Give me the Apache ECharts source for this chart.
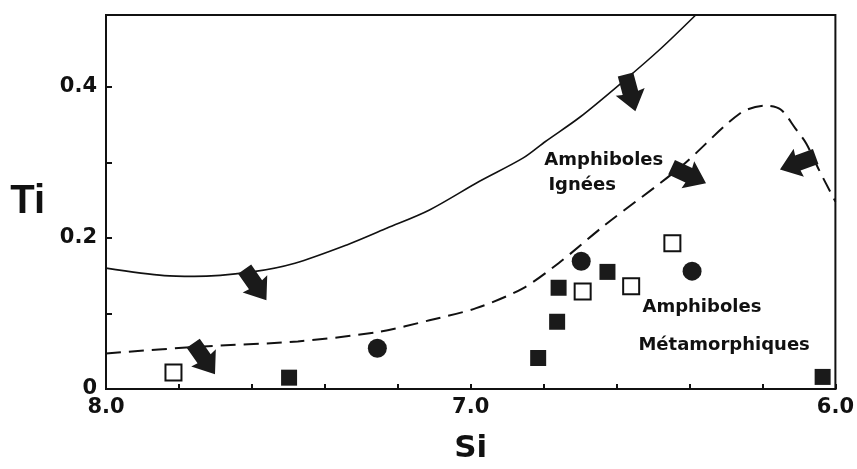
<!DOCTYPE html>
<html>
<head>
<meta charset="utf-8">
<script src="https://cdn.jsdelivr.net/npm/echarts@6/dist/echarts.min.js"></script>
<style>
html,body{margin:0;padding:0;background:#fff;}
#chart{width:857px;height:469px;}
</style>
</head>
<body>
<div id="chart"></div>
<script>
// Data (Si, Ti)
const openSquares = [[7.815,0.022],[6.693,0.129],[6.560,0.136],[6.447,0.193]];
const filledSquares = [[7.498,0.015],[6.815,0.041],[6.763,0.089],[6.759,0.134],[6.625,0.155],[6.035,0.016]];
const filledCircles = [[7.256,0.054],[6.697,0.169],[6.393,0.156]];
const igneousLimit = [[8.0,0.160],[7.84,0.150],[7.758,0.149],[7.60,0.155],[7.482,0.1665],[7.338,0.191],[7.229,0.213],[7.113,0.237],[6.977,0.2746],[6.857,0.3055],[6.795,0.3276],[6.70,0.360],[6.587,0.405],[6.48,0.450],[6.383,0.495]];
const metamorphicLimit = [[8.0,0.047],[7.745,0.056],[7.474,0.063],[7.248,0.076],[7.113,0.091],[6.985,0.107],[6.858,0.133],[6.759,0.1665],[6.632,0.217],[6.424,0.294],[6.261,0.365],[6.19,0.375],[6.15,0.370],[6.11,0.345],[6.08,0.325],[6.045,0.29],[6.0,0.248]];
// arrows: Si, Ti, rotation (deg)
const arrows = [[7.590,0.138,35],[7.731,0.040,35],[6.562,0.392,15],[6.402,0.283,65],[6.103,0.299,-70]];
const annotations = [
  {name:'Amphiboles', value:[6.798,0.303]},
  {name:'Ignées', value:[6.787,0.270]},
  {name:'Amphiboles', value:[6.529,0.1086]},
  {name:'Métamorphiques', value:[6.540,0.058]}
];
const xTickLabels = [8, 7, 6];
const yTickLabels = [0, 0.2, 0.4];

const ink = '#111';
const arrowPath = 'path://M-8,-19 L8,-19 L8,0 L15,-1 L0,19 L-15,-1 L-8,0 Z';

const chart = echarts.init(document.getElementById('chart'));
chart.setOption({
  backgroundColor: '#fff',
  animation: false,
  grid: {left:106, right:14, top:15, bottom:80, show:true, borderColor:ink, borderWidth:2, backgroundColor:'transparent'},
  xAxis: {
    type:'value', inverse:true, min:6, max:8, interval:0.2,
    axisLine:{lineStyle:{color:ink, width:2}},
    axisTick:{inside:true, length:5, lineStyle:{color:ink, width:2}},
    splitLine:{show:false},
    axisLabel:{
      color:ink, fontSize:21, fontFamily:'DejaVu Sans', fontWeight:'bold', margin:8,
      formatter: v => xTickLabels.some(t => Math.abs(t - v) < 1e-6) ? v.toFixed(1) : ''
    },
    name:'Si', nameLocation:'middle', nameGap:44,
    nameTextStyle:{color:ink, fontSize:31, fontFamily:'DejaVu Sans', fontWeight:'bold'}
  },
  yAxis: {
    type:'value', min:0, max:0.495, interval:0.1,
    axisLine:{lineStyle:{color:ink, width:2}},
    axisTick:{inside:true, length:6, lineStyle:{color:ink, width:2}},
    splitLine:{show:false},
    axisLabel:{
      color:ink, fontSize:21, fontFamily:'DejaVu Sans', fontWeight:'bold', margin:9,
      formatter: v => {
        const t = yTickLabels.find(t => Math.abs(t - v) < 1e-6);
        if (t === undefined) return '';
        return t === 0 ? '0' : t.toFixed(1);
      }
    },
    name:'Ti', nameLocation:'middle', nameRotate:0, nameGap:61,
    nameTextStyle:{color:ink, fontSize:40, fontFamily:'Liberation Sans', fontWeight:'bold'}
  },
  series: [
    {type:'line', data:igneousLimit, smooth:0.3, symbol:'none', lineStyle:{color:ink, width:1.6}, z:2},
    {type:'line', data:metamorphicLimit, smooth:0.3, symbol:'none', lineStyle:{color:ink, width:2, type:[15,8]}, z:2},
    {type:'scatter', data:arrows.map(a => ({value:[a[0],a[1]], symbolRotate:a[2]})),
      symbol:arrowPath, symbolSize:[30,38],
      itemStyle:{color:'#1a1a1a', opacity:1}, z:3},
    {type:'scatter', data:openSquares, symbol:'rect', symbolSize:16,
      itemStyle:{color:'#fff', borderColor:ink, borderWidth:2, opacity:1}, z:4},
    {type:'scatter', data:filledSquares, symbol:'rect', symbolSize:16,
      itemStyle:{color:'#1a1a1a', opacity:1}, z:4},
    {type:'scatter', data:filledCircles, symbol:'circle', symbolSize:19,
      itemStyle:{color:'#1a1a1a', opacity:1}, z:4},
    {type:'scatter', data:annotations, symbolSize:0, silent:true,
      itemStyle:{opacity:1},
      label:{show:true, position:'right', distance:0, formatter:p => p.name,
        color:ink, fontSize:18, fontWeight:'bold', fontFamily:'DejaVu Sans'}, z:5}
  ]
});
</script>
</body>
</html>
